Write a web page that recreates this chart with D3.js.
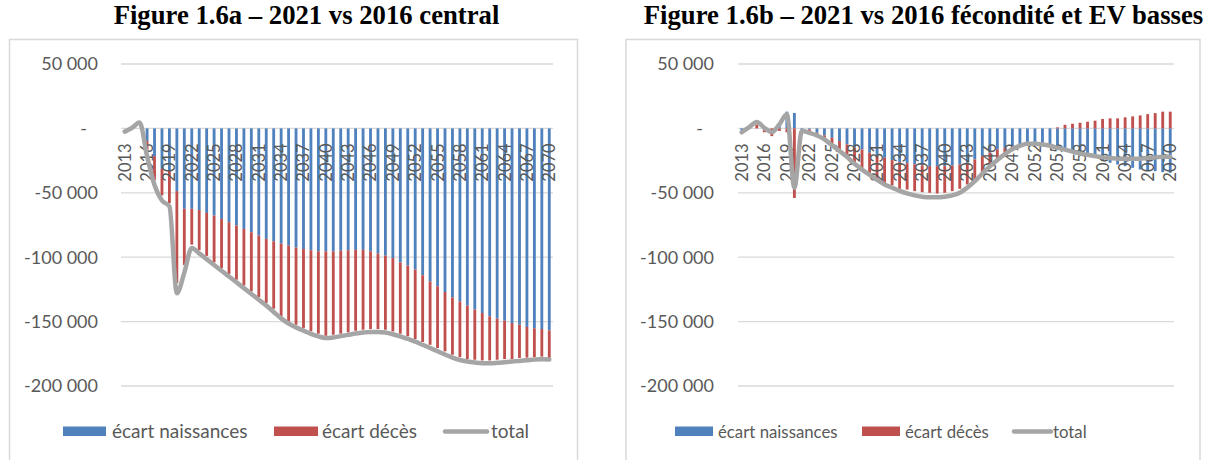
<!DOCTYPE html>
<html><head><meta charset="utf-8">
<script src="https://cdn.jsdelivr.net/npm/d3@7"></script>
<style>body{margin:0;background:#fff} svg{display:block}</style>
</head><body>
<svg id="c" width="1210" height="460"></svg>
<script>
const years = [2013,2014,2015,2016,2017,2018,2019,2020,2021,2022,2023,2024,2025,2026,2027,2028,2029,2030,
  2031,2032,2033,2034,2035,2036,2037,2038,2039,2040,2041,2042,2043,2044,2045,2046,2047,2048,2049,2050,
  2051,2052,2053,2054,2055,2056,2057,2058,2059,2060,2061,2062,2063,2064,2065,2066,2067,2068,2069,2070];
const xTickYears = [2013,2016,2019,2022,2025,2028,2031,2034,2037,2040,2043,2046,2049,2052,2055,2058,2061,2064,2067,2070];
const yTicks = [50000,0,-50000,-100000,-150000,-200000];
const yTickLabels = ["50 000","-","-50 000","-100 000","-150 000","-200 000"];
const seriesNames = ["écart naissances","écart décès","total"];
const titleA = "Figure 1.6a – 2021 vs 2016 central";
const titleB = "Figure 1.6b – 2021 vs 2016 fécondité et EV basses";

// Figure 1.6a
const naissancesA = [0,0,0,-9800,-21500,-31400,-33100,-48700,-62400,-62400,-63400,-65600,-67700,-70300,-72800,-75400,-78000,-80600,
  -83200,-85800,-87600,-89400,-91000,-92500,-93600,-94600,-95400,-95400,-95400,-95000,-94600,-94300,-94300,-95400,-97200,-98800,-100600,-104000,
  -106500,-109600,-114000,-118700,-122600,-127000,-131200,-134300,-137600,-140700,-143300,-145900,-147700,-149300,-151100,-152400,-154200,-155200,-155800,-156800];
const decesA = [0,0,0,-8200,-18500,-20600,-24900,-71300,-43600,-27800,-31100,-33400,-36300,-38200,-40200,-42100,-44000,-45900,
  -47800,-49700,-52400,-56600,-58800,-59900,-61300,-63000,-64000,-65600,-64800,-64400,-63800,-62800,-62000,-60400,-58600,-57500,-57000,-55400,
  -54900,-53900,-51800,-49300,-47900,-46100,-44500,-43200,-41500,-38900,-36900,-34300,-31900,-29800,-28000,-25900,-23800,-22300,-21400,-21500];
const totalA = [-2500,500,4500,-21500,-44000,-56000,-60500,-128000,-112000,-92800,-97000,-101500,-106000,-110500,-115000,-119500,-124000,-128500,
  -133000,-137500,-142500,-147500,-151500,-154500,-157000,-159500,-161500,-162700,-162300,-161300,-160300,-159300,-158500,-158000,-158000,-158500,-159800,-161500,
  -163500,-165500,-168000,-170500,-173000,-175500,-178000,-179800,-181000,-181800,-182300,-182300,-182000,-181500,-181000,-180500,-180000,-179500,-179300,-179500];

// Figure 1.6b
const naissancesB = [-1500,0,0,-1500,0,4000,13000,12000,-500,-800,-3400,-5400,-7300,-9800,-12400,-15000,-16300,-18900,
  -21500,-22800,-24600,-26200,-27000,-28000,-28800,-29300,-29300,-29300,-28800,-28000,-26700,-24100,-21500,-18900,-16300,-15000,-13700,-12400,
  -11800,-12400,-13000,-13700,-15000,-16300,-17600,-18900,-21000,-22800,-25400,-26700,-28000,-29300,-30600,-31900,-32400,-33200,-34000,-34500];
const decesB = [0,0,3000,-1500,-6000,-2000,-3000,-54000,-2500,-2600,-2000,-3200,-5100,-7800,-9100,-11700,-15600,-18200,
  -19500,-20700,-19500,-20700,-20500,-20700,-20700,-20700,-21200,-20700,-19900,-18900,-16800,-15600,-13500,-10400,-9100,-6500,-3900,-1300,
  -600,-300,0,0,800,2800,3600,4400,5200,6000,7300,7800,7800,8600,9300,10100,11100,11900,13000,13000];
const totalB = [-3000,1000,5000,500,-3000,3000,11000,-46000,-2000,-3500,-5500,-8500,-13000,-17500,-22000,-27500,-32000,-36000,
  -40000,-43500,-46000,-48500,-50500,-52000,-53000,-53500,-53500,-53000,-52000,-50000,-46000,-41000,-35000,-29500,-24500,-20000,-16000,-13500,
  -12000,-12000,-12500,-13500,-15000,-16500,-18000,-19500,-20500,-21500,-22500,-23000,-23500,-23500,-23500,-23500,-23000,-22500,-22000,-22000];

const COL = {n:"#4F81BD", d:"#C0504D", t:"#A5A5A5", grid:"#D9D9D9", text:"#595959"};
const FONT = "Lato, 'Open Sans', sans-serif";
const svg = d3.select("#c");

function draw(cfg) {
  const g = svg.append("g");
  g.append("rect").attr("x", cfg.box[0]).attr("y", cfg.box[1]).attr("width", cfg.box[2]).attr("height", cfg.box[3])
    .attr("fill", "#fff").attr("stroke", COL.grid).attr("stroke-width", 1.5);
  g.append("text").attr("x", cfg.titleX).attr("y", 24).attr("text-anchor", "middle")
    .attr("font-family", "'Liberation Serif','Times New Roman',serif").attr("font-weight", "bold")
    .attr("font-size", 26.7).attr("fill", "#000").text(cfg.title);

  const x = d3.scaleBand().domain(years).range([cfg.x0, cfg.x1]).paddingInner(0.62).paddingOuter(0.31);
  const y = d3.scaleLinear().domain([50000, -200000]).range([64, 386]);

  // gridlines
  g.append("g").selectAll("line").data(yTicks).join("line")
    .attr("x1", cfg.x0).attr("x2", cfg.x1).attr("y1", d => y(d)).attr("y2", d => y(d))
    .attr("stroke", COL.grid).attr("stroke-width", 1.3);

  // y labels
  g.append("g").selectAll("text").data(yTicks).join("text")
    .attr("x", (d, i) => d === 0 ? cfg.yLabelX - 11 : cfg.yLabelX).attr("y", d => y(d)).attr("dy", "0.36em")
    .attr("text-anchor", "end").attr("font-family", FONT).attr("font-size", 18).attr("fill", COL.text)
    .text((d, i) => yTickLabels[i]);

  // stacked bars
  const rows = years.map((yr, i) => ({year: yr, n: cfg.n[i], d: cfg.d[i]}));
  const stack = d3.stack().keys(["n", "d"]).offset(d3.stackOffsetDiverging)(rows);
  g.append("g").selectAll("g").data(stack).join("g").attr("fill", s => COL[s.key])
    .selectAll("rect").data(s => s).join("rect")
    .attr("x", p => x(p.data.year)).attr("width", x.bandwidth())
    .attr("y", p => y(Math.max(p[0], p[1]))).attr("height", p => Math.abs(y(p[0]) - y(p[1])));

  // x labels
  g.append("g").selectAll("text").data(xTickYears).join("text")
    .attr("transform", d => `translate(${x(d) + x.bandwidth() / 2},${y(0) + 15}) rotate(-90)`)
    .attr("dy", "0.36em").attr("text-anchor", "end").attr("font-family", FONT).attr("font-size", 16.5)
    .attr("fill", COL.text).text(d => d);

  // total line
  const line = d3.line().x((v, i) => x(years[i]) + x.bandwidth() / 2).y(v => y(v)).curve(d3.curveMonotoneX);
  g.append("path").attr("d", line(cfg.t)).attr("fill", "none").attr("stroke", COL.t)
    .attr("stroke-width", 4.5).attr("stroke-linejoin", "round").attr("stroke-linecap", "round");

  // legend
  const L = cfg.legend;
  const lg = g.append("g").attr("font-family", FONT).attr("font-size", L.fs).attr("fill", COL.text);
  const cols = [COL.n, COL.d, COL.t];
  seriesNames.forEach((name, i) => {
    if (i < 2) {
      lg.append("rect").attr("x", L.sx[i]).attr("y", 426.5).attr("width", L.sw[i]).attr("height", 9.5).attr("fill", cols[i]);
    } else {
      lg.append("line").attr("x1", L.sx[i] + 2).attr("x2", L.sx[i] + L.sw[i] - 2).attr("y1", 431.5).attr("y2", 431.5)
        .attr("stroke", cols[i]).attr("stroke-width", 4.5).attr("stroke-linecap", "round");
    }
    lg.append("text").attr("x", L.tx[i]).attr("y", 431.5).attr("dy", "0.36em").text(name);
  });
}

draw({title: titleA, titleX: 306.5, box: [9.5, 39.5, 568, 440], x0: 121, x1: 553, yLabelX: 98,
  n: naissancesA, d: decesA, t: totalA,
  legend: {fs: 19, sx: [63, 274, 443], sw: [43, 44, 46], tx: [112, 322, 491]}});
draw({title: titleB, titleX: 923.5, box: [626, 39.5, 574, 440], x0: 738, x1: 1174, yLabelX: 714,
  n: naissancesB, d: decesB, t: totalB,
  legend: {fs: 16.8, sx: [675, 862, 1012], sw: [38, 38, 41], tx: [718, 905, 1053]}});
</script>
</body></html>
